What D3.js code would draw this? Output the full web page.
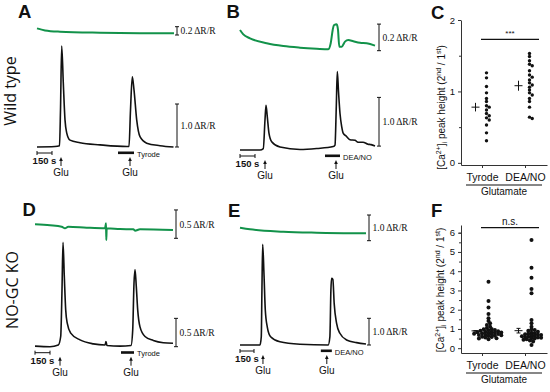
<!DOCTYPE html>
<html>
<head>
<meta charset="utf-8">
<script src="https://cdn.jsdelivr.net/npm/d3@7"></script>
<style>
    body { margin: 0; background: #fff; }
    svg { display: block; }
    text { font-family: 'Liberation Sans', Arial, sans-serif; fill: #111; }
    .serif { font-family: 'Liberation Serif', 'Times New Roman', serif; }
    .narrow { font-family: 'Liberation Sans Narrow', 'Liberation Sans', Arial, sans-serif; }
    .row { font-family: 'Open Sans', 'Noto Sans', sans-serif; }
</style>
</head>
<body>
<svg id="wrapper" width="550" height="392"></svg>
<script>
// Traces: time (s) and value (ΔR/R). Fura-2 ratio in black, cGMP sensor in green
const aFuraT = [0, 180, 225, 235, 247, 263, 280, 297, 330, 430, 630, 900, 920, 935, 953, 970, 997, 1030, 1097, 1230, 1365]
const aFuraV = [0, 0.01, 0.03, 0.86, 2.35, 1.49, 0.63, 0.33, 0.16, 0.1, 0.05, 0.01, 0.01, 0.86, 1.63, 1.33, 0.63, 0.24, 0.09, 0.03, 0]
const aGreenT = [0, 80, 230, 630, 1030, 1370]
const aGreenV = [0.16, 0.11, 0.08, 0.055, 0.045, 0.04]

const bFuraT = [0, 200, 233, 250, 260, 273, 290, 317, 400, 600, 767, 933, 950, 963, 973, 985, 1000, 1017, 1033, 1060, 1100, 1150, 1180, 1230, 1280, 1310, 1350]
const bFuraV = [0, 0, 0.03, 0.62, 0.92, 0.68, 0.34, 0.17, 0.06, 0.01, 0.03, 0.07, 0.1, 0.9, 1.61, 1.2, 0.75, 0.48, 0.34, 0.29, 0.21, 0.2, 0.16, 0.16, 0.12, 0.11, 0.08]
const bGreenT = [0, 33, 100, 267, 433, 600, 767, 883, 907, 927, 940, 967, 980, 993, 1017, 1050, 1083, 1133, 1200, 1267, 1350]
const bGreenV = [0.156, 0.123, 0.093, 0.056, 0.035, 0.023, 0.015, 0.011, 0.056, 0.156, 0.193, 0.198, 0.156, 0.03, 0.03, 0.068, 0.08, 0.071, 0.06, 0.056, 0.038]

const dFuraT = [0, 150, 233, 257, 270, 280, 293, 307, 323, 357, 450, 583, 700, 710, 720, 850, 960, 977, 990, 1000, 1013, 1027, 1050, 1100, 1183, 1283, 1380]
const dFuraV = [0.01, 0, 0.03, 0.18, 1.0, 1.84, 1.24, 0.65, 0.41, 0.24, 0.12, 0.05, 0.03, 0.09, 0.02, 0.01, 0.02, 0.29, 1.12, 1.36, 1.06, 0.65, 0.35, 0.18, 0.11, 0.07, 0.06]
const dGreenT = [0, 150, 267, 300, 333, 517, 700, 710, 713, 717, 850, 983, 1000, 1050, 1380]
const dGreenV = [0.247, 0.229, 0.205, 0.176, 0.205, 0.187, 0.176, 0.265, -0.03, 0.176, 0.164, 0.159, 0.134, 0.159, 0.146]

const eFuraT = [0, 214, 228, 235, 243, 257, 271, 292, 328, 428, 642, 945, 963, 974, 981, 995, 1009, 1035, 1070, 1142, 1249, 1350]
const eFuraV = [0, 0, 0.31, 2.06, 3.77, 2.65, 1.31, 0.68, 0.31, 0.12, 0.03, 0, 0.31, 2.06, 2.5, 2.46, 1.56, 0.81, 0.44, 0.19, 0.09, 0.04]
const eGreenT = [0, 107, 464, 821, 1350]
const eGreenV = [0.506, 0.444, 0.35, 0.311, 0.288]

// glutamate pulses (s), treatment windows (s), scale bars (ΔR/R)
const gluTimes = { A: [240, 930], B: [250, 960], D: [250, 960], E: [246, 930] }
const treatWindows = { A: [810, 970], B: [850, 1000], D: [860, 990], E: [866, 984] }
const treatLabels = { A: 'Tyrode', B: 'DEA/NO', D: 'Tyrode', E: 'DEA/NO' }
const furaBars = { A: [0, 1.0], B: [0.08, 1.08], D: [0, 0.5], E: [0, 1.0] }
const greenBars = { A: [0, 0.2], B: [0, 0.2], D: [0, 0.5], E: [0, 1.0] }
const timeBar = 150

// Peak height ratios (2nd / 1st)
const categories = ['Tyrode', 'DEA/NO']
const cTyrode = [1.26, 1.19, 1.07, 0.98, 0.9, 0.86, 0.8, 0.78, 0.74, 0.69, 0.66, 0.63, 0.6, 0.53, 0.42, 0.31]
const cDea = [1.53, 1.49, 1.43, 1.38, 1.36, 1.29, 1.23, 1.2, 1.16, 1.12, 1.09, 1.06, 1.02, 0.98, 0.95, 0.9, 0.86, 0.78, 0.64, 0.62]
const cMean = [0.78, 1.08]
const cSem = [0.06, 0.07]
const fTyrode = [3.45, 2.45, 2.12, 1.78, 1.55, 1.41, 1.3, 1.2, 1.12, 1.05, 1.0, 0.98, 0.95, 0.93, 0.9, 0.88, 0.86, 0.85, 0.83, 0.82, 0.8, 0.78, 0.77, 0.75, 0.74, 0.72, 0.7, 0.68, 0.67, 0.65, 0.63, 0.6, 0.58, 0.55, 0.52, 0.5, 0.47]
const fDea = [5.62, 4.18, 3.66, 3.07, 2.85, 1.47, 1.3, 1.12, 0.98, 0.95, 0.9, 0.85, 0.8, 0.78, 0.75, 0.72, 0.7, 0.68, 0.66, 0.64, 0.62, 0.6, 0.58, 0.56, 0.54, 0.52, 0.5, 0.47, 0.44, 0.4, 0.35, 0.17]
const fMean = [0.9, 0.91]
const fSem = [0.01, 0.12]
const cTicks = [0, 1, 2]
const cMinor = [0.5, 1.5]
const fTicks = [0, 1, 2, 3, 4, 5, 6]
const fMinor = [0.5, 1.5, 2.5, 3.5, 4.5, 5.5, 6]
const sigLabels = ['***', 'n.s.']

const green = '#12924a'
const ink = '#111'

const wrapper = d3.select('#wrapper')
wrapper.append('rect').attr('width', 550).attr('height', 392).attr('fill', '#fff')

// row labels
const rowLabel = (txt, x, y) => wrapper.append('text')
    .attr('class', 'row')
    .attr('transform', `translate(${x},${y}) rotate(-90)`)
    .attr('text-anchor', 'middle')
    .style('font-size', '16px')
    .text(txt)
rowLabel('Wild type', 16, 91)
rowLabel('NO-GC KO', 17.5, 290)

const letter = (txt, x, y) => wrapper.append('text')
    .attr('x', x).attr('y', y)
    .style('font-size', '18.5px')
    .style('font-weight', 'bold')
    .text(txt)

function scaleBar(g, x, y, bar, gap) {
    const [y0, y1] = [y(bar[0]), y(bar[1])]
    g.append('path')
        .attr('d', `M${x - 2},${y0}H${x + 2}M${x},${y0}V${y1}M${x - 2},${y1}H${x + 2}`)
        .attr('stroke', ink).attr('stroke-width', 1).attr('fill', 'none')
    g.append('text')
        .attr('class', 'serif')
        .attr('x', x + gap).attr('y', (y0 + y1) / 2 + 3.5)
        .style('font-size', '9.5px')
        .text(`${d3.format('.1f')(bar[1] - bar[0])} ΔR/R`)
}

function drawTracePanel(p) {
    const k = p.key
    const x = d3.scaleLinear().domain([0, p.tMax]).range([p.left, p.right])
    const yF = d3.scaleLinear().domain([0, 1]).range([p.furaZero, p.furaZero - p.furaUnit])
    const yG = d3.scaleLinear().domain([0, 1]).range([p.greenZero, p.greenZero - p.greenUnit])
    const g = wrapper.append('g')

    const lineGen = ys => d3.line()
        .x(d => x(d[0]))
        .y(d => ys(d[1]))
        .curve(d3.curveMonotoneX)

    g.append('path')
        .attr('d', lineGen(yG)(d3.zip(p.greenT, p.greenV)))
        .attr('fill', 'none')
        .attr('stroke', green)
        .attr('stroke-width', 2)

    g.append('path')
        .attr('d', lineGen(yF)(d3.zip(p.furaT, p.furaV)))
        .attr('fill', 'none')
        .attr('stroke', ink)
        .attr('stroke-width', 1.6)
        .attr('stroke-linejoin', 'round')

    scaleBar(g, p.barX, yF, furaBars[k], 3.5)
    scaleBar(g, p.barX, yG, greenBars[k], 3.5)

    // time bar
    const base = p.furaZero
    const tb = base + 6
    g.append('path')
        .attr('d', `M${x(0)},${tb - 2}V${tb + 2}M${x(0)},${tb}H${x(timeBar)}M${x(timeBar)},${tb - 2}V${tb + 2}`)
        .attr('stroke', ink).attr('stroke-width', 1).attr('fill', 'none')
    g.append('text')
        .attr('class', 'narrow')
        .attr('x', x(timeBar / 2)).attr('y', base + 17)
        .attr('text-anchor', 'middle')
        .style('font-size', '9.5px')
        .style('font-weight', 'bold')
        .text(`${timeBar} s`)

    // glutamate arrows
    gluTimes[k].forEach(t => {
        const ax = x(t)
        g.append('path')
            .attr('d', `M${ax},${base + 12}V${base + 19}`)
            .attr('stroke', ink).attr('stroke-width', 1)
        g.append('path')
            .attr('d', `M${ax - 1.8},${base + 14}L${ax},${base + 10}L${ax + 1.8},${base + 14}Z`)
            .attr('fill', ink)
        g.append('text')
            .attr('class', 'narrow')
            .attr('x', ax).attr('y', base + 29)
            .attr('text-anchor', 'middle')
            .style('font-size', '10px')
            .text('Glu')
    })

    // treatment bar
    const [t0, t1] = treatWindows[k]
    g.append('rect')
        .attr('x', x(t0)).attr('y', base + 4.5)
        .attr('width', x(t1) - x(t0)).attr('height', 2.6)
        .attr('fill', ink)
    g.append('text')
        .attr('class', 'narrow')
        .attr('x', x(t1) + 3).attr('y', base + 9.5)
        .style('font-size', '7.5px')
        .text(treatLabels[k])

    letter(k, p.lx, p.ly)
}

const tracePanels = [
    { key: 'A', furaT: aFuraT, furaV: aFuraV, greenT: aGreenT, greenV: aGreenV,
      left: 37, right: 174, tMax: 1370, furaZero: 147, furaUnit: 43, greenZero: 35, greenUnit: 41.5, barX: 177, lx: 18, ly: 18.3 },
    { key: 'B', furaT: bFuraT, furaV: bFuraV, greenT: bGreenT, greenV: bGreenV,
      left: 240, right: 375, tMax: 1350, furaZero: 150, furaUnit: 48.7, greenZero: 50.7, greenUnit: 133, barX: 379, lx: 226.5, ly: 18.3 },
    { key: 'D', furaT: dFuraT, furaV: dFuraV, greenT: dGreenT, greenV: dGreenV,
      left: 35, right: 173, tMax: 1380, furaZero: 346.7, furaUnit: 56.7, greenZero: 238.3, greenUnit: 56.7, barX: 176, lx: 22.5, ly: 216 },
    { key: 'E', furaT: eFuraT, furaV: eFuraV, greenT: eGreenT, greenV: eGreenV,
      left: 240, right: 366, tMax: 1350, furaZero: 345, furaUnit: 26.7, greenZero: 240.7, greenUnit: 25.7, barX: 369, lx: 228, ly: 216.5 },
]
tracePanels.forEach(drawTracePanel)

// beeswarm offsets for the dots, largest value first
function swarm(values, y, r, minDist) {
    const placed = []
    return values.slice().sort((a, b) => b - a).map(v => {
        const py = y(v)
        let dx = 0
        for (let i = 0; i < 60; i++) {
            dx = i === 0 ? 0 : (i % 2 ? 1 : -1) * Math.ceil(i / 2) * r * 0.8
            if (placed.every(q => Math.hypot(q.x - dx, q.y - py) >= minDist)) break
        }
        placed.push({ x: dx, y: py })
        return { x: dx, y: py }
    })
}

function yLabel(g, x, y) {
    const t = g.append('text')
        .attr('transform', `translate(${x},${y}) rotate(-90)`)
        .attr('text-anchor', 'middle')
        .style('font-size', '10px')
    const part = (s, dy, size) => t.append('tspan').attr('dy', dy).style('font-size', size).text(s)
    part('[Ca', 0, '10px')
    part('2+', -4, '7px')
    part(']', 4, '10px')
    part('i', 2, '7px')
    part(' peak height (2', -2, '10px')
    part('nd', -4, '7px')
    part(' / 1', 4, '10px')
    part('st', -4, '7px')
    part(')', 4, '10px')
}

function drawScatter(p) {
    const y = d3.scaleLinear().domain(p.domain).range(p.range)
    const x = d3.scaleBand().domain(categories).range([461, 547])
    const g = wrapper.append('g')
    const axisY = y(p.domain[0])

    g.append('g')
        .attr('transform', 'translate(461,0)')
        .call(d3.axisLeft(y).tickValues(p.ticks).tickSize(3).tickSizeOuter(0).tickFormat(d3.format('d')))
        .attr('font-size', 9.5)
        .style('color', '#333')
    g.append('g')
        .attr('transform', 'translate(461,0)')
        .call(d3.axisLeft(y).tickValues(p.minor).tickSize(2).tickFormat(''))
        .style('color', '#333')
        .call(a => a.select('.domain').remove())
    g.append('g')
        .attr('transform', `translate(0,${axisY})`)
        .call(d3.axisBottom(x).tickSize(3).tickSizeOuter(0).tickFormat(''))
        .style('color', '#333')

    categories.forEach((c, i) => {
        const cx = x(c) + x.bandwidth() / 2
        g.append('text')
            .attr('x', cx).attr('y', axisY + 16)
            .attr('text-anchor', 'middle')
            .style('font-size', '10.5px')
            .text(c)

        swarm(p.values[i], y, p.r, p.minDist).forEach(d => {
            g.append('circle')
                .attr('cx', cx + p.dotShift + d.x)
                .attr('cy', d.y)
                .attr('r', p.r)
                .attr('fill', ink)
        })

        // mean ± sem
        const mx = cx - 7
        const [lo, hi] = [y(p.mean[i] - p.sem[i]), y(p.mean[i] + p.sem[i])]
        let d = `M${mx - 4},${y(p.mean[i])}H${mx + 4}M${mx},${lo}V${hi}`
        if (p.caps) d += `M${mx - 2},${lo}H${mx + 2}M${mx - 2},${hi}H${mx + 2}`
        g.append('path').attr('d', d).attr('stroke', ink).attr('stroke-width', 1).attr('fill', 'none')
    })

    // group label
    g.append('path')
        .attr('d', `M${466},${axisY + 20}H${542}`)
        .attr('stroke', ink).attr('stroke-width', 1.2)
    g.append('text')
        .attr('x', 504).attr('y', axisY + 30)
        .attr('text-anchor', 'middle')
        .style('font-size', '10px')
        .text('Glutamate')

    // significance
    g.append('path')
        .attr('d', `M481,${y(p.sig)}H539`)
        .attr('stroke', ink).attr('stroke-width', 1.3)
    g.append('text')
        .attr('x', 510).attr('y', y(p.sig) - 3)
        .attr('text-anchor', 'middle')
        .style('font-size', p.sigSize)
        .text(p.sigLabel)

    yLabel(g, p.labelX, (p.range[0] + p.range[1]) / 2 + p.labelShift)
    letter(p.key, p.lx, p.ly)
}

drawScatter({ key: 'C', values: [cTyrode, cDea], mean: cMean, sem: cSem, ticks: cTicks, minor: cMinor,
    domain: [-0.03, 2], range: [165, 20], r: 1.7, minDist: 2.8, dotShift: 4, caps: false,
    sig: 1.73, sigLabel: sigLabels[0], sigSize: '8px', labelX: 445, labelShift: 15, lx: 431, ly: 19.3 })
drawScatter({ key: 'F', values: [fTyrode, fDea], mean: fMean, sem: fSem, ticks: fTicks, minor: fMinor,
    domain: [-0.25, 6.4], range: [353, 225], r: 2, minDist: 2.6, dotShift: 6, caps: true,
    sig: 6.26, sigLabel: sigLabels[1], sigSize: '10px', labelX: 444, labelShift: 1, lx: 431, ly: 216.5 })
</script>
</body>
</html>
